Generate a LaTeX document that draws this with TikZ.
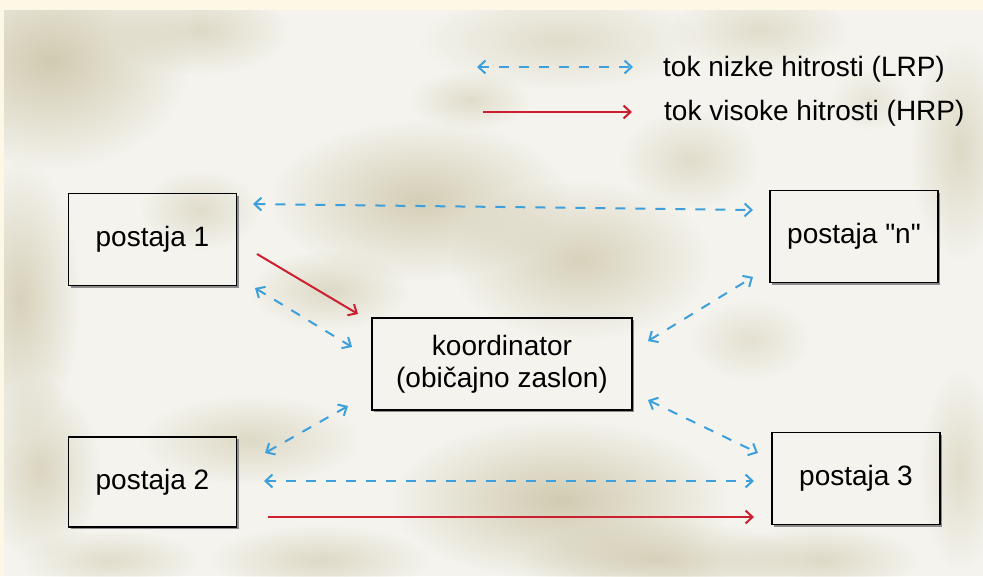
\documentclass[tikz,border=0pt]{standalone}
\usepackage{fontspec}
\setmainfont{Liberation Sans}
\usetikzlibrary{arrows.meta,fadings}
\definecolor{cream}{HTML}{FDF8E6}
\definecolor{paper}{HTML}{F4F3ED}
\definecolor{khaki}{HTML}{B4AA7E}
\definecolor{lrpblue}{HTML}{3D9FDB}
\definecolor{hrpred}{HTML}{CC1F30}
\newcommand{\straightquote}{\XeTeXglyph\XeTeXcharglyph"22\relax}
\tikzfading[name=blobfade, inner color=transparent!0, outer color=transparent!100]
\tikzset{
  stationbox/.style={draw=black, line width=1.8pt, minimum width=168pt, minimum height=92pt,
    inner sep=0pt, align=center, font=\fontsize{28}{32}\selectfont},
  legendtext/.style={anchor=base west, inner sep=0pt, font=\fontsize{28}{32}\selectfont},
  lrp/.style={draw=lrpblue, line width=2pt, dash pattern=on 10pt off 10pt,
    {Straight Barb[length=7pt,width=13pt]}-{Straight Barb[length=7pt,width=13pt]}},
  hrp/.style={draw=hrpred, line width=2pt, -{Straight Barb[length=7pt,width=13pt]}},
  blob/.style={fill=khaki, path fading=blobfade}
}
\begin{document}
\begin{tikzpicture}[x=1pt,y=-1pt]
\useasboundingbox (0,0) rectangle (983,576);
% background
\fill[cream] (0,0) rectangle (983,576);
\fill[paper] (4,10) rectangle (983,576);
\begin{scope}
\clip (4,10) rectangle (983,576);
\foreach \cx/\cy/\rx/\ry/\op in {
  50/60/140/110/0.55, 200/30/90/45/0.35, 560/40/140/50/0.3, 760/30/90/40/0.3,
  420/200/150/80/0.5, 580/260/130/80/0.45, 330/290/80/40/0.35, 690/160/70/50/0.3,
  20/300/60/140/0.45, 40/470/60/90/0.4, 250/440/110/45/0.35,
  560/500/170/80/0.55, 660/560/140/40/0.45, 320/560/110/35/0.35,
  960/150/50/110/0.35, 960/470/40/100/0.3, 820/560/100/35/0.35, 110/560/90/30/0.3,
  750/340/60/40/0.25, 200/210/60/40/0.3, 470/100/60/30/0.3, 870/100/40/30/0.2}
  \fill[blob, fill opacity=\op] (\cx,\cy) ellipse [x radius=\rx, y radius=\ry];
\end{scope}
% shadows of boxes
\foreach \x/\y/\w/\h in {152.5/239.5/168/92, 854/236.5/168/92, 502/364/260/92, 152.5/482/168/90, 856/478.5/168/92}
  \draw[black!45, line width=1.6pt] (\x-\w/2+2,\y+\h/2+1.6) -- (\x+\w/2+1.2,\y+\h/2+1.6) -- (\x+\w/2+1.2,\y-\h/2+2);
% boxes
\node[stationbox] (p1) at (152.5,239.5) {postaja 1};
\node[stationbox] (pn) at (854,236.5) {postaja \straightquote n\straightquote};
\node[stationbox, minimum width=260pt] (k) at (502,364) {koordinator\\(običajno zaslon)};
\node[stationbox, minimum height=90pt] (p2) at (152.5,482) {postaja 2};
\node[stationbox] (p3) at (856,478.5) {postaja 3};
% legend
\coordinate (la) at (477,67);
\coordinate (lb) at (633,67);
\coordinate (ha) at (483,112);
\coordinate (hb) at (632,112);
\draw[lrp] (la) -- (lb);
\draw[hrp] (ha) -- (hb);
\node[legendtext] (lt1) at (663,76) {tok nizke hitrosti (LRP)};
\node[legendtext] (lt2) at (664,120) {tok visoke hitrosti (HRP)};
% connector end points
\coordinate (a1) at (253,204);  \coordinate (b1) at (753,210);
\coordinate (a2) at (257,254);  \coordinate (b2) at (358,314);
\coordinate (a3) at (255,288);  \coordinate (b3) at (352,347);
\coordinate (a4) at (648,341);  \coordinate (b4) at (753,277);
\coordinate (a5) at (348,406);  \coordinate (b5) at (265,453);
\coordinate (a6) at (648,400);  \coordinate (b6) at (758,453);
\coordinate (a7) at (264,481);  \coordinate (b7) at (754,481);
\coordinate (a8) at (268,517);  \coordinate (b8) at (754,517);
\draw[lrp] (a1) -- (b1);
\draw[hrp] (a2) -- (b2);
\draw[lrp] (a3) -- (b3);
\draw[lrp] (a4) -- (b4);
\draw[lrp] (a5) -- (b5);
\draw[lrp] (a6) -- (b6);
\draw[lrp] (a7) -- (b7);
\draw[hrp] (a8) -- (b8);
\end{tikzpicture}
\end{document}
